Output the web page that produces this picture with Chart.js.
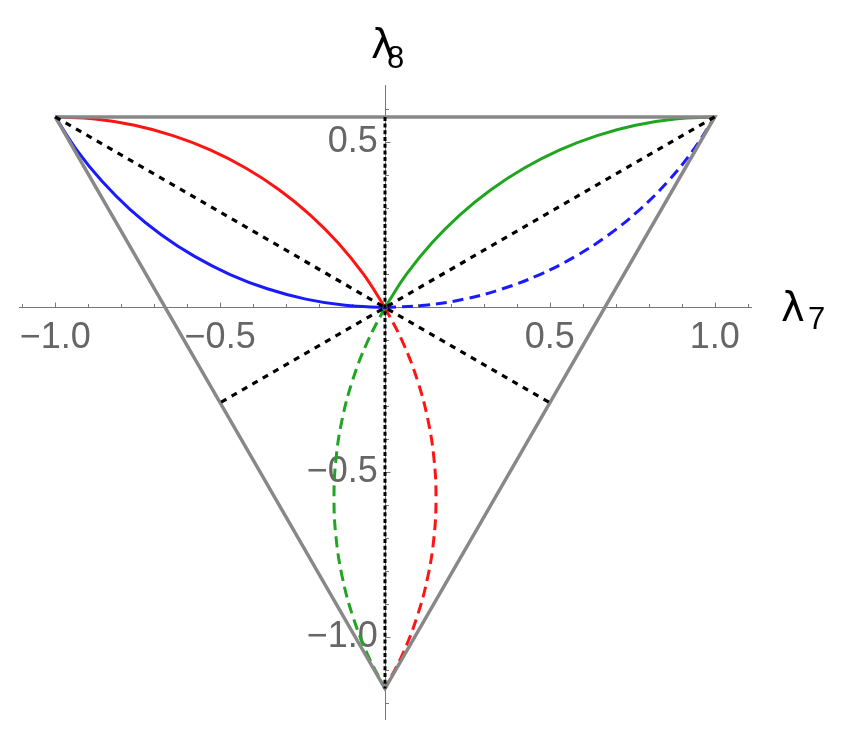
<!DOCTYPE html>
<html><head><meta charset="utf-8">
<script src="https://cdn.jsdelivr.net/npm/chart.js@4.4.1/dist/chart.umd.min.js"></script>
<style>html,body{margin:0;padding:0;background:#fff;overflow:hidden}#wrap{width:858px;height:734px;position:relative}</style>
</head><body><div id="wrap"><canvas id="c" width="858" height="734"></canvas></div>
<script>
// ---- axis ranges and tick labels ----
const xRange = [-1.11, 1.11];
const yRange = [-1.247, 0.674];
const xTickValues = [-1.0, -0.5, 0.5, 1.0];
const yTickValues = [0.5, -0.5, -1.0];
const xAxisName = ['λ', '7'];
const yAxisName = ['λ', '8'];

// ---- outline triangle and dotted medians ----
const triangle = [[-1, 0.5774], [1, 0.5774], [0, -1.1547], [-1, 0.5774]];
const medianLeft = [[-1, 0.5774], [0.5, -0.2887]];
const medianRight = [[1, 0.5774], [-0.5, -0.2887]];
const medianVertical = [[0, 0.5774], [0, -1.1547]];

// ---- curves ----
const blueSolid = [[-1, 0.5774], [-0.9342, 0.4760], [-0.8581, 0.3821], [-0.7727, 0.2966], [-0.6787, 0.2205], [-0.5774, 0.1547], [-0.4697, 0.0998], [-0.3568, 0.0565], [-0.2401, 0.0252], [-0.1207, 0.0063], [0, 0]];
const blueDashed = [[0, 0], [0.1207, 0.0063], [0.2401, 0.0252], [0.3568, 0.0565], [0.4697, 0.0998], [0.5774, 0.1547], [0.6787, 0.2205], [0.7727, 0.2966], [0.8581, 0.3821], [0.9342, 0.4760], [1, 0.5774]];
const redSolid = [[-1, 0.5774], [-0.8793, 0.5710], [-0.7599, 0.5521], [-0.6432, 0.5208], [-0.5303, 0.4775], [-0.4226, 0.4226], [-0.3213, 0.3568], [-0.2274, 0.2808], [-0.1419, 0.1953], [-0.0658, 0.1014], [0, 0]];
const redDashed = [[0, 0], [0.0549, -0.1077], [0.0982, -0.2205], [0.1295, -0.3373], [0.1484, -0.4567], [0.1547, -0.5774], [0.1484, -0.6980], [0.1295, -0.8174], [0.0982, -0.9342], [0.0549, -1.0470], [0, -1.1547]];
const greenSolid = [[0, 0], [0.0658, 0.1014], [0.1419, 0.1953], [0.2274, 0.2808], [0.3213, 0.3568], [0.4226, 0.4226], [0.5303, 0.4775], [0.6432, 0.5208], [0.7599, 0.5521], [0.8793, 0.5710], [1, 0.5774]];
const greenDashed = [[0, 0], [-0.0549, -0.1077], [-0.0982, -0.2205], [-0.1295, -0.3373], [-0.1484, -0.4567], [-0.1547, -0.5774], [-0.1484, -0.6980], [-0.1295, -0.8174], [-0.0982, -0.9342], [-0.0549, -1.0470], [0, -1.1547]];

const pts = a => a.map(p => ({x: p[0], y: p[1]}));
const RED = '#ff1414', BLUE = '#1a1aff', GREEN = '#1fa51f', GRAY = '#888888';

function ds(data, color, width, dash, tension) {
  return {data: pts(data), showLine: true, borderColor: color, backgroundColor: color,
    borderWidth: width, borderDash: dash, pointRadius: 0, pointHoverRadius: 0,
    tension: tension, fill: false, borderCapStyle: 'butt', borderJoinStyle: 'miter'};
}

const fmt = v => (v < 0 ? '\u2212' : '') + Math.abs(v).toFixed(1);
const noPad = s => { s.paddingLeft = 0; s.paddingRight = 0; s.paddingTop = 0; s.paddingBottom = 0; };

const axisDecor = {
  id: 'axisDecor',
  beforeDatasetsDraw(chart) {
    const {ctx, scales: {x, y}} = chart;
    const x0 = Math.round(x.getPixelForValue(0)) + 0.5;
    const y0 = Math.round(y.getPixelForValue(0)) + 0.5;
    ctx.save();
    ctx.strokeStyle = '#777777';
    ctx.lineWidth = 1;
    ctx.beginPath();
    for (let i = -11; i <= 11; i++) {
      if (i === 0) continue;
      const px = Math.round(x.getPixelForValue(i / 10)) + 0.5;
      const len = (i % 5 === 0) ? 5 : 3.5;
      ctx.moveTo(px, y0); ctx.lineTo(px, y0 - len);
    }
    for (let i = -12; i <= 6; i++) {
      if (i === 0) continue;
      const py = Math.round(y.getPixelForValue(i / 10)) + 0.5;
      const len = (i % 5 === 0) ? 5 : 3.5;
      ctx.moveTo(x0, py); ctx.lineTo(x0 + len, py);
    }
    ctx.stroke();
    ctx.restore();
  },
  afterDraw(chart) {
    const {ctx, chartArea, scales: {x, y}} = chart;
    const x0 = x.getPixelForValue(0);
    const y0 = y.getPixelForValue(0);
    ctx.save();
    ctx.fillStyle = '#000';
    ctx.textAlign = 'left';
    ctx.textBaseline = 'alphabetic';
    // y-axis name above the axis
    ctx.font = '40px "DejaVu Sans", sans-serif';
    ctx.fillText(yAxisName[0], x0 - 14, chartArea.top - 27);
    ctx.font = '31px "Liberation Sans", Arial, sans-serif';
    ctx.fillText(yAxisName[1], x0 + 2, chartArea.top - 17);
    // x-axis name at the right end
    ctx.font = '40px "DejaVu Sans", sans-serif';
    ctx.fillText(xAxisName[0], chartArea.right + 30, y0 + 14);
    ctx.font = '31px "Liberation Sans", Arial, sans-serif';
    ctx.fillText(xAxisName[1], chartArea.right + 57, y0 + 22);
    ctx.restore();
  }
};

new Chart(document.getElementById('c'), {
  type: 'scatter',
  data: {
    datasets: [
      ds(medianVertical, '#000000', 3, [4, 2.7], 0),
      ds(medianLeft, '#000000', 3.2, [6, 6], 0),
      ds(medianRight, '#000000', 3.2, [6, 6], 0),
      ds(triangle, GRAY, 3.5, [], 0),
      ds(redSolid, RED, 3, [], 0.4),
      ds(greenSolid, GREEN, 3, [], 0.4),
      ds(blueSolid, BLUE, 3, [], 0.4),
      ds(blueDashed, BLUE, 3, [11, 6], 0.4),
      ds(redDashed, RED, 3, [11, 6], 0.4),
      ds(greenDashed, GREEN, 3, [11, 6], 0.4)
    ]
  },
  options: {
    responsive: false,
    animation: false,
    events: [],
    layout: {padding: {left: 19, right: 107, top: 85, bottom: 15}},
    plugins: {legend: {display: false}, tooltip: {enabled: false}},
    scales: {
      x: {
        type: 'linear', min: xRange[0], max: xRange[1],
        position: {y: 0},
        afterBuildTicks: s => { s.ticks = xTickValues.map(v => ({value: v})); },
        afterFit: noPad,
        grid: {display: false, drawTicks: false, tickLength: 0},
        border: {display: true, color: '#777777', width: 1},
        ticks: {
          color: '#666666', font: {family: '"Liberation Sans", Arial, sans-serif', size: 36},
          padding: 9, autoSkip: false, maxRotation: 0, minRotation: 0,
          callback: v => fmt(v)
        }
      },
      y: {
        type: 'linear', min: yRange[0], max: yRange[1],
        position: {x: 0},
        afterBuildTicks: s => { s.ticks = yTickValues.map(v => ({value: v})); },
        afterFit: noPad,
        grid: {display: false, drawTicks: false, tickLength: 0},
        border: {display: true, color: '#777777', width: 1},
        ticks: {
          color: '#666666', font: {family: '"Liberation Sans", Arial, sans-serif', size: 36},
          padding: 8, autoSkip: false, maxRotation: 0, minRotation: 0,
          callback: v => fmt(v) + '\u2009'
        }
      }
    }
  },
  plugins: [axisDecor]
});
</script>
</body></html>
